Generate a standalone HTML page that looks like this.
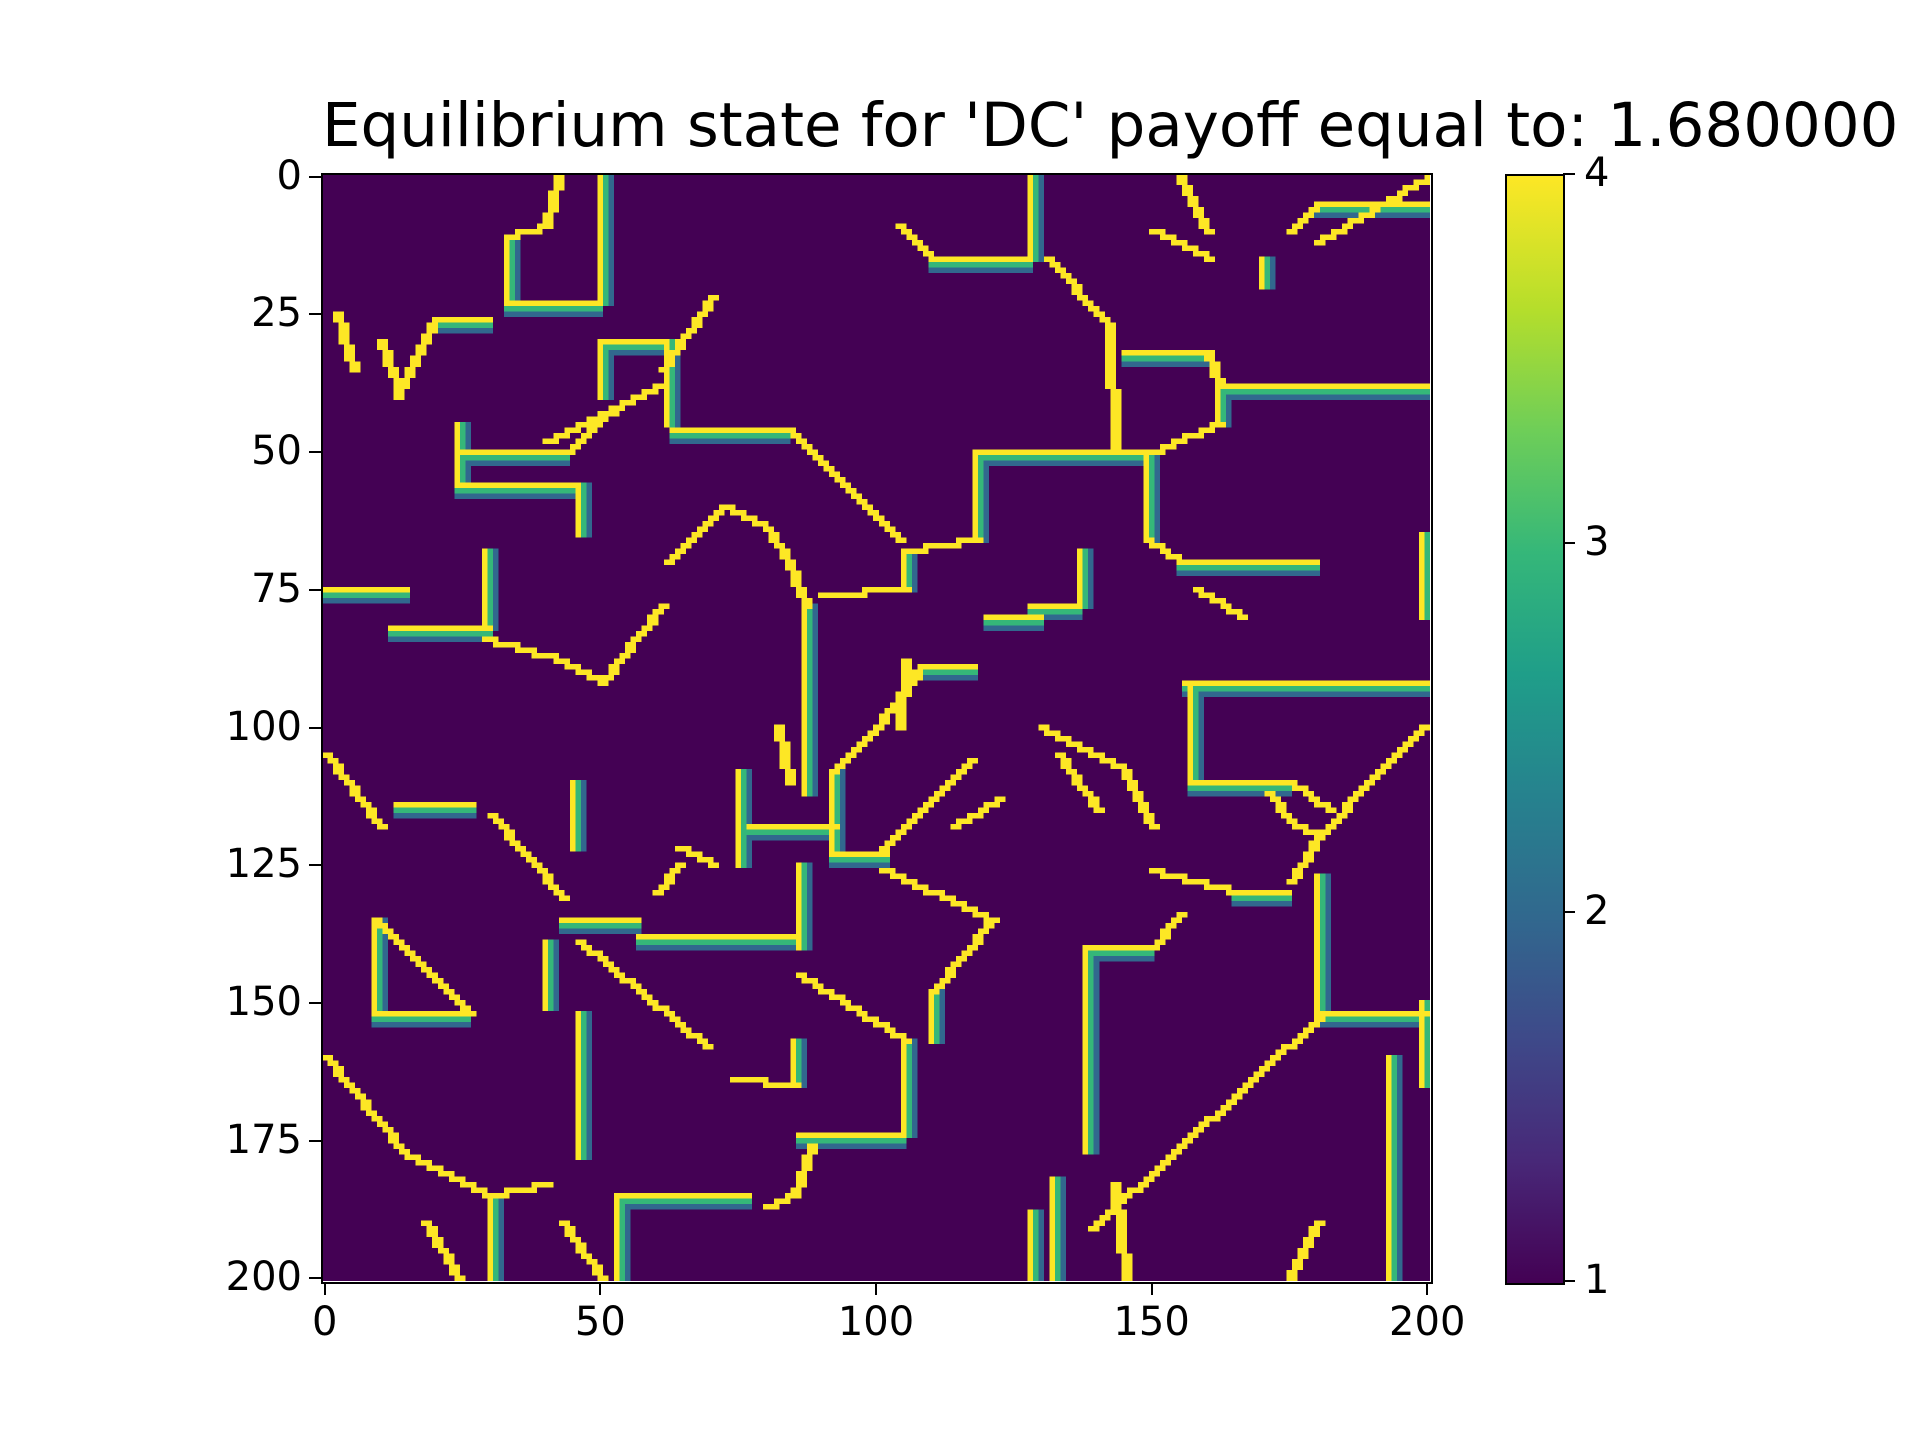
<!DOCTYPE html>
<html><head><meta charset="utf-8">
<style>
html,body{margin:0;padding:0;background:#fff;}
#fig{position:relative;width:1920px;height:1440px;overflow:hidden;background:#fff;font-family:"DejaVu Sans","Liberation Sans",sans-serif;color:#000;}
#title{position:absolute;left:322px;top:90px;font-size:61px;white-space:nowrap;}
#heat{position:absolute;left:322px;top:174px;width:1108px;height:1107px;image-rendering:pixelated;}
#frame{position:absolute;left:321px;top:173px;width:1108px;height:1107px;border:2px solid #000;}
#cbar{position:absolute;left:1505px;top:174px;width:56px;height:1107px;border:2px solid #000;
background:linear-gradient(to top,#440154 0%,#482878 11%,#3e4989 22%,#31688e 33%,#26828e 44%,#1f9e89 55%,#35b779 66%,#6ece58 77%,#b5de2b 88%,#fde725 100%);}
.tk{position:absolute;background:#000;}
.tl{position:absolute;font-size:40px;white-space:nowrap;}
</style></head><body>
<div id="fig">
<div id="title">Equilibrium state for 'DC' payoff equal to: 1.680000</div>
<canvas id="heat" width="201" height="201"></canvas>
<div id="frame"></div>
<div id="cbar"></div>
</div>
<script>
const gridSize = 201;
const xTicks = [0,50,100,150,200];
const yTicks = [0,25,50,75,100,125,150,175,200];
const cbarTicks = [1,2,3,4];
// polylines of strategy-4 boundaries: [col,row,...]
const boundaries = [
[50,0,50,23,33,23,33,11],[33,11,40,9,42,0],[128,0,128,15,110,15,104,9],[131,15,142,27,143,50,150,50],
[24,45,24,56,46,56,46,65],[24,50,44,50,50,44,56,40],[63,46,84,46,104,66],[87,78,87,112],
[62,70,72,60,80,64,84,70,87,78],[0,75,15,75],[29,68,29,82],[12,82,30,82],[29,84,43,88,50,92,61,78],
[156,92,200,92],[157,92,157,110,175,110,182,115],[162,38,200,38],[145,32,160,32,162,38,162,45,150,50],
[149,50,149,66,155,70,180,70],[199,65,199,80],[118,50,148,50],[118,51,118,66,105,68,105,75,90,76],
[137,68,137,78,128,78],[108,89,118,89],[101,122,117,106],[92,123,102,123],[92,108,92,123],[92,108,100,100,108,89],
[75,108,75,125],[77,118,93,118],[86,125,86,140],[57,138,85,138],[43,135,57,135],[30,116,43,131],[13,114,27,114],
[45,110,45,122],[9,135,9,152,26,152],[9,135,26,152],[40,139,40,151],[46,152,46,178],[46,139,69,158],
[85,157,85,165,74,164],[86,174,105,174],[105,157,105,174],[86,145,105,157],[101,126,121,135,110,148,110,157],
[138,140,138,177],[138,140,150,140,155,134],[181,152,139,191],[180,152,200,152],[180,127,180,152],
[193,160,193,200],[199,150,199,165],[199,100,189,110,180,120,175,128],[53,185,77,185],[53,185,53,200],
[128,188,128,200],[132,182,132,200],[0,160,15,178],[15,178,30,185,40,183],[30,185,30,200],[0,105,10,118],
[2,25,5,35],[10,30,13,38],[13,40,20,26,30,26],[40,48,60,38],[50,40,50,30,62,30,62,45],[61,35,70,22],
[150,10,160,15],[155,0,160,10],[175,10,180,5,200,5],[180,12,200,0],[170,15,170,20],[175,200,180,190],
[158,75,166,80],[120,80,130,80],[130,100,145,108,150,118],[133,105,140,115],[150,126,165,130,175,130],
[114,118,122,113],[64,122,70,125],[60,130,64,125],[18,190,24,200],[43,190,50,200],[88,176,85,185,80,187],
[143,183,145,200],[171,112,175,117,180,120],[82,100,84,110],[105,88,104,100]
];
const cv=document.getElementById('heat');const ctx=cv.getContext('2d');
const grid=[];for(let r=0;r<gridSize;r++){grid.push(new Array(gridSize).fill(1));}
function setc(c,r,v){if(c>=0&&r>=0&&c<gridSize&&r<gridSize&&grid[r][c]<v)grid[r][c]=v;}
function seg(x0,y0,x1,y1){
  const dx=Math.abs(x1-x0),dy=Math.abs(y1-y0),sx=x0<x1?1:-1,sy=y0<y1?1:-1;let err=dx-dy;let x=x0,y=y0;
  while(true){setc(x,y,4);
    if(dy===0){setc(x,y+1,3);setc(x,y+2,2);}else if(dx===0){setc(x+1,y,3);setc(x+2,y,2);}
    else{setc(x+1,y,4);}
    if(x===x1&&y===y1)break;const e2=2*err;if(e2>-dy){err-=dy;x+=sx;}if(e2<dx){err+=dx;y+=sy;}}
}
boundaries.forEach(p=>{for(let i=0;i+3<p.length;i+=2)seg(p[i],p[i+1],p[i+2],p[i+3]);});
const cols={1:'#440154',2:'#31688e',3:'#35b779',4:'#fde725'};
for(let r=0;r<gridSize;r++)for(let c=0;c<gridSize;c++){ctx.fillStyle=cols[grid[r][c]];ctx.fillRect(c,r,1,1);}
const fig=document.getElementById('fig');
const L=322,T=174,W=1108,H=1107;
function xs(v){return L+(v+0.5)*W/gridSize;}function ys(v){return T+(v+0.5)*H/gridSize;}
function add(cls,st,txt){const d=document.createElement('div');d.className=cls;Object.assign(d.style,st);if(txt!==undefined)d.textContent=txt;fig.appendChild(d);return d;}
xTicks.forEach(v=>{const x=xs(v);
 const t=add('tk',{left:(x-1)+'px',top:(T+H+2)+'px',width:'2px',height:'12px'});
 
 
 const l=add('tl',{left:(x-60)+'px',top:(T+H+18)+'px',width:'120px',textAlign:'center'},String(v));
 
 });
yTicks.forEach(v=>{const y=ys(v);
 const t=add('tk',{left:(L-13)+'px',top:(y-1)+'px',width:'12px',height:'2px'});
 
 
 const l=add('tl',{left:(L-140)+'px',top:(y-24)+'px',width:'120px',textAlign:'right'},String(v));
 
 });
cbarTicks.forEach(v=>{const y=T+H-(v-1)/3*H;
 const t=add('tk',{left:'1563px',top:(y-1)+'px',width:'12px',height:'2px'});
 
 
 const l=add('tl',{left:'1584px',top:(y-24)+'px'},String(v));
 
 });
</script>
</body></html>
